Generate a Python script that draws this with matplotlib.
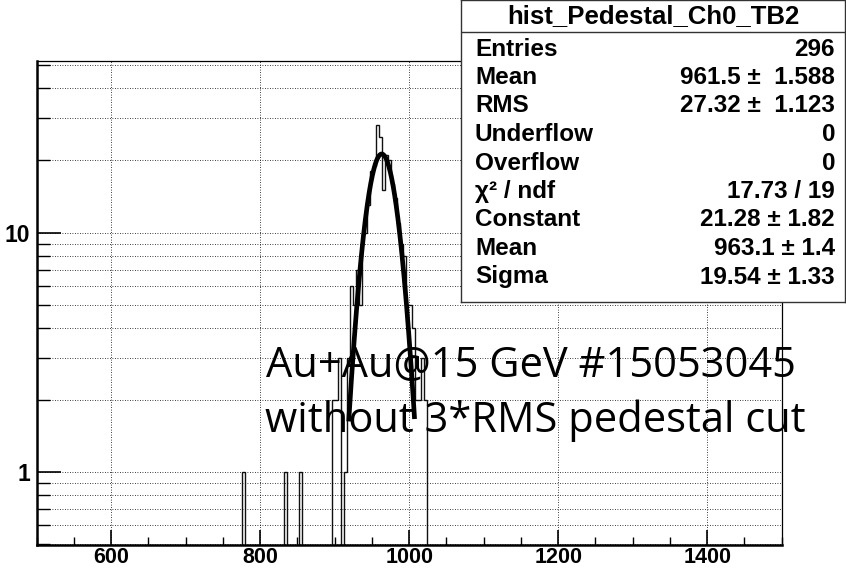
import numpy as np
import matplotlib.pyplot as plt
from matplotlib.ticker import FixedLocator, MultipleLocator, LogLocator, NullFormatter

# histogram: bins of 4 ADC counts from 500 to 1500, only filled bins listed
bin_width = 4
bin_left = [776, 832, 852, 896, 900, 904, 912, 916, 920, 924, 928, 932, 936, 940,
            944, 948, 952, 956, 960, 964, 968, 972, 976, 980, 984, 988, 992, 996,
            1000, 1004, 1008, 1012, 1016, 1020]
counts = [1, 1, 1, 2, 2, 3, 1, 3, 6, 5, 7, 5, 10, 10,
          13, 18, 19, 28, 25, 15, 21, 20, 16, 14, 11, 9, 8, 5,
          5, 4, 2, 2, 3, 2]

# gaus fit shown in the stats box
fit_const, fit_mean, fit_sigma = 21.28, 963.1, 19.54
fit_range = (919, 1007)

stat_names = ['Entries', 'Mean', 'RMS', 'Underflow', 'Overflow', 'χ² / ndf',
              'Constant', 'Mean', 'Sigma']
stat_values = ['296', '961.5 ±  1.588', '27.32 ±  1.123', '0', '0', '17.73 / 19',
               '21.28 ± 1.82', '963.1 ± 1.4', '19.54 ± 1.33']
hist_name = 'hist_Pedestal_Ch0_TB2'
note_lines = ['Au+Au@15 GeV #15053045', 'without 3*RMS pedestal cut']

W, H = 846, 569
fig = plt.figure(figsize=(W/100, H/100), dpi=100)
ax = fig.add_axes([36.7/W, (H-545)/H, (781.7-36.7)/W, (545-61)/H])

edges = np.arange(500, 1500 + bin_width, bin_width)
full = np.zeros(len(edges) - 1)
for b, c in zip(bin_left, counts):
    full[(b - 500)//bin_width] = c
full = np.where(full > 0, full, 1e-3)  # empty bins drop to the bottom of the frame
ax.stairs(full, edges, color='#111111', lw=1.0, baseline=1e-3)

xf = np.linspace(fit_range[0], fit_range[1], 300)
ax.plot(xf, fit_const*np.exp(-0.5*((xf - fit_mean)/fit_sigma)**2), color='black', lw=3.4)

ax.set_yscale('log')
ax.set_xlim(500, 1500)
ax.set_ylim(0.497, 52)

ax.xaxis.set_major_locator(MultipleLocator(200))
ax.xaxis.set_minor_locator(MultipleLocator(50))
ax.yaxis.set_major_locator(FixedLocator([1, 10]))
ax.yaxis.set_minor_locator(LogLocator(subs=np.arange(2, 10)))
ax.yaxis.set_minor_formatter(NullFormatter())
ax.set_yticklabels(['1', '10'])

ax.grid(which='major', axis='x', ls=(0, (1, 2)), color='black', lw=0.6)
ax.grid(which='both', axis='y', ls=(0, (1, 2)), color='black', lw=0.6)

ax.tick_params(which='both', direction='in', top=False, right=False)
ax.tick_params(axis='y', which='major', length=17, width=1.2, pad=5)
ax.tick_params(axis='y', which='minor', length=9, width=1.0)
ax.tick_params(axis='x', which='major', length=11, width=1.2, pad=1.5)
ax.tick_params(axis='x', which='minor', length=5.5, width=1.0)
for lab in ax.get_yticklabels():
    lab.set_fontfamily('Liberation Sans')
    lab.set_fontweight('bold')
    lab.set_fontsize(16.5)
for lab in ax.get_xticklabels():
    lab.set_fontfamily('Liberation Sans')
    lab.set_fontweight('bold')
    lab.set_fontsize(15.5)
ax.spines['left'].set_linewidth(1.8)
ax.spines['bottom'].set_linewidth(1.8)
ax.spines['top'].set_linewidth(0.9)
ax.spines['right'].set_linewidth(0.9)

# stats box
sb = fig.add_axes([461/W, (H-302)/H, (845-461)/W, 302/H])
sb.set_xlim(461, 845)
sb.set_ylim(302, 0)
sb.set_xticks([])
sb.set_yticks([])
for s in sb.spines.values():
    s.set_linewidth(1.0)
    s.set_color('#333333')
sb.axhline(31.7, color='#333333', lw=1.0)
sb.text(653, 16.5, hist_name, ha='center', va='center', fontsize=18.5,
        fontweight='bold', family='Liberation Sans')
for i, (n, v) in enumerate(zip(stat_names, stat_values)):
    y = 49 + i*28.5
    sb.text(475, y, n, ha='left', va='center', fontsize=17.5, fontweight='bold',
            family='Liberation Sans')
    sb.text(835, y, v, ha='right', va='center', fontsize=17.5, fontweight='bold',
            family='Liberation Sans')

fig.text(266/W, (H-377)/H, note_lines[0], ha='left', va='baseline', fontsize=30,
         family='Open Sans')
fig.text(265/W, (H-432)/H, note_lines[1], ha='left', va='baseline', fontsize=30,
         family='Open Sans')

fig.savefig('out.png', dpi=100)
